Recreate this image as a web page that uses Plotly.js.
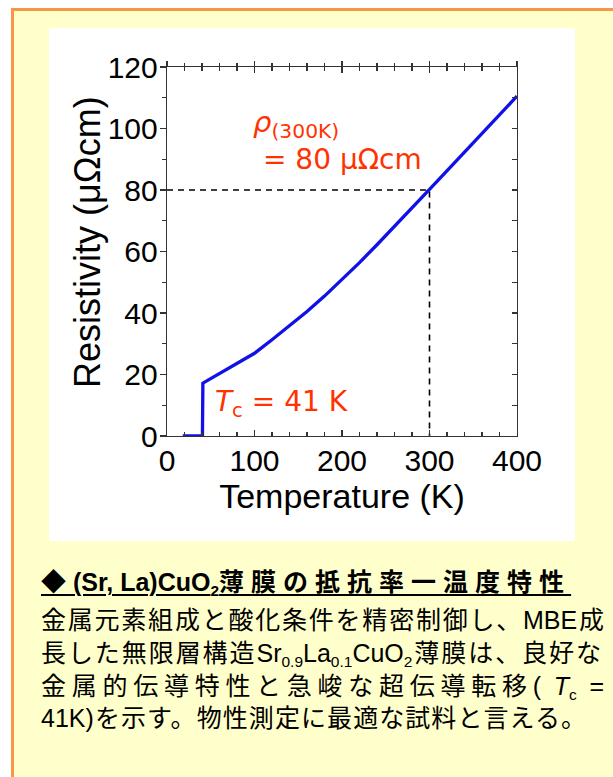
<!DOCTYPE html>
<html>
<head>
<meta charset="utf-8">
<script src="https://cdn.plot.ly/plotly-3.0.1.min.js"></script>
<style>
  html, body { margin:0; padding:0; width:613px; height:777px; overflow:hidden; background:#ffffff; }
  #frame { position:absolute; left:11px; top:8px; width:700px; height:900px; box-sizing:border-box;
           border:3px solid #F79646; background:#FFFFCC; }
  #chart { position:absolute; left:49px; top:28px; width:526px; height:513px; background:#ffffff; }
  .cap { position:absolute; left:41px; font-family:"Liberation Sans","Noto Sans CJK JP",sans-serif; color:#000;
         white-space:nowrap; line-height:28px; height:28px; }
  .just { text-align:justify; text-align-last:justify; }
  .cap sub { font-size:62%; vertical-align:-0.3em; line-height:0; }
  #h { top:566px; font-size:25px; font-weight:bold; text-decoration:underline; text-decoration-thickness:2px; text-underline-offset:3px; }
  #h .cj { letter-spacing:7px; font-family:"Noto Sans CJK JP",sans-serif; }
  #l1 { top:606px; width:563px; font-size:25px; }
  #l2 { top:639px; width:560px; font-size:25px; }
  #l3 { top:672px; width:563px; font-size:25px; }
  #l4 { top:704px; width:545px; font-size:25px; }
</style>
</head>
<body>
<div id="frame"></div>
<div id="chart"></div>
<div class="cap" id="h">◆ (Sr, La)CuO<sub>2</sub><span class="cj">薄膜の抵抗率一温度特性</span></div>
<div class="cap just" id="l1">金属元素組成と酸化条件を精密制御し、MBE成</div>
<div class="cap just" id="l2">長した無限層構造Sr<sub>0.9</sub>La<sub>0.1</sub>CuO<sub>2</sub>薄膜は、良好な</div>
<div class="cap just" id="l3">金属的伝導特性と急峻な超伝導転移( <i>T</i><sub>c</sub> =</div>
<div class="cap just" id="l4">41K)を示す。物性測定に最適な試料と言える。</div>
<script>
// Resistivity vs temperature of (Sr,La)CuO2 film
const temperatureK = [18, 40.5, 41, 60, 80, 95, 100, 120, 140, 160, 180, 200, 220, 240, 260, 280, 300, 325, 350, 375, 400];
const resistivity = [0, 0, 17.2, 20.3, 23.5, 26.0, 26.9, 31.3, 35.8, 40.5, 45.5, 50.8, 56.4, 62.2, 68.1, 74.1, 80.2, 87.8, 95.3, 102.9, 110.5];
const refT = [0, 300, 300];
const refRho = [80, 80, 0];
const xTickVals = [0, 100, 200, 300, 400];
const yTickVals = [0, 20, 40, 60, 80, 100, 120];

const red = '#FF3300';
const axisColor = '#333333';
const arial = '"Liberation Sans", Arial, sans-serif';
const redFont = '"DejaVu Sans", sans-serif';
const tickFont = {family: arial, size: 30, color: '#000'};

const traces = [
  {x: refT, y: refRho, mode: 'lines', line: {color: '#000', width: 1.6, dash: '6px,5px'}, cliponaxis: false, hoverinfo: 'skip'},
  {x: temperatureK, y: resistivity, mode: 'lines', line: {color: '#1010E8', width: 3.3}, cliponaxis: false}
];

const layout = {
  width: 526, height: 513,
  margin: {l: 118, r: 57.5, t: 39, b: 104.5},
  paper_bgcolor: '#ffffff', plot_bgcolor: '#ffffff',
  showlegend: false,
  xaxis: {
    range: [0, 400], tickvals: xTickVals, ticktext: xTickVals.map(String),
    ticks: 'inside', ticklen: 6, tickwidth: 1.2, tickcolor: axisColor,
    minor: {dtick: 20, tick0: 0, ticks: 'inside', ticklen: 4, tickwidth: 1.2, tickcolor: axisColor},
    showline: true, linecolor: axisColor, linewidth: 1.3, mirror: 'allticks',
    showgrid: false, zeroline: false, tickfont: tickFont, ticklabelstandoff: -2,
    title: {text: 'Temperature (K)', font: {family: arial, size: 34, color: '#000'}, standoff: 0}
  },
  xaxis2: {
    overlaying: 'x', side: 'top', range: [0, 400], tickvals: xTickVals, showticklabels: false,
    ticks: 'outside', ticklen: 5, tickwidth: 1.2, tickcolor: axisColor,
    minor: {dtick: 20, tick0: 0, ticks: 'outside', ticklen: 3, tickwidth: 1.2, tickcolor: axisColor},
    showline: false, showgrid: false, zeroline: false
  },
  yaxis: {
    range: [0, 120], tickvals: yTickVals, ticktext: yTickVals.map(String),
    ticks: 'outside', ticklen: 6, tickwidth: 1.2, tickcolor: axisColor,
    minor: {dtick: 10, tick0: 0, ticks: 'outside', ticklen: 4, tickwidth: 1.2, tickcolor: axisColor},
    showline: true, linecolor: axisColor, linewidth: 1.3, mirror: true,
    showgrid: false, zeroline: false, tickfont: tickFont, ticklabelstandoff: -4
  },
  yaxis2: {
    overlaying: 'y', side: 'right', range: [0, 120], dtick: 10, tick0: 0, showticklabels: false,
    ticks: 'inside', ticklen: 5, tickwidth: 1.2, tickcolor: axisColor,
    showline: false, showgrid: false, zeroline: false
  },
  annotations: [
    {x: -0.2254, y: 0.526, xref: 'paper', yref: 'paper', xanchor: 'center', yanchor: 'middle', showarrow: false,
     textangle: -90, text: 'Resistivity (μΩcm)', font: {family: arial, size: 36, color: '#000'}},
    {x: 96, y: 101.5, xref: 'x', yref: 'y', xanchor: 'left', yanchor: 'middle', showarrow: false,
     text: '<i>ρ</i><sub>(300K)</sub>', font: {family: redFont, size: 29, color: red}},
    {x: 107, y: 89.8, xref: 'x', yref: 'y', xanchor: 'left', yanchor: 'middle', showarrow: false,
     text: '= 80 μΩcm', font: {family: redFont, size: 28, color: red}},
    {x: 52, y: 10.5, xref: 'x', yref: 'y', xanchor: 'left', yanchor: 'middle', showarrow: false,
     text: '<i>T</i><sub>c</sub> = 41 K', font: {family: redFont, size: 28, color: red}}
  ]
};
// invisible marker that activates the overlay (top / right) tick axes
traces.push({x: [0], y: [0], xaxis: 'x2', yaxis: 'y2', mode: 'markers', marker: {opacity: 0}, hoverinfo: 'skip'});

Plotly.newPlot('chart', traces, layout, {staticPlot: true, displayModeBar: false});
</script>
</body>
</html>
